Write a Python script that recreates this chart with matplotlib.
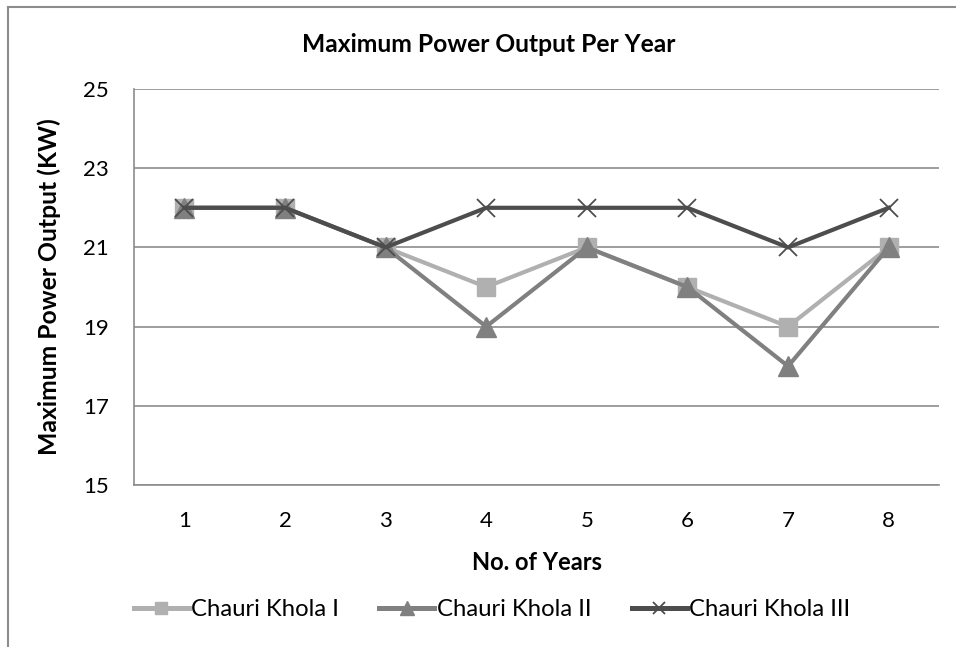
import matplotlib
matplotlib.use("Agg")
import matplotlib.pyplot as plt
from matplotlib.lines import Line2D

plt.rcParams['font.family'] = ['Lato', 'DejaVu Sans']

years = [1, 2, 3, 4, 5, 6, 7, 8]
khola1 = [22, 22, 21, 20, 21, 20, 19, 21]
khola2 = [22, 22, 21, 19, 21, 20, 18, 21]
khola3 = [22, 22, 21, 22, 22, 22, 21, 22]
yticks = [15, 17, 19, 21, 23, 25]

W, H = 956, 647
fig = plt.figure(figsize=(W / 100, H / 100), dpi=100)
ax = fig.add_axes([134 / W, 1 - 485 / H, 805 / W, 396 / H])

grid_c = '#8c8c8c'
ax.plot(years, khola1, color='#b0b0b0', lw=3.0, marker='s', ms=13,
        label='Chauri Khola I', zorder=3)
ax.plot(years, khola2, color='#808080', lw=3.0, marker='^', ms=14,
        label='Chauri Khola II', zorder=4)
ax.plot(years, khola3, color='#4d4d4d', lw=3.0, marker='x', ms=13,
        mew=1.3, label='Chauri Khola III', zorder=5)

ax.set_xlim(0.5, 8.5)
ax.set_ylim(15, 25)
ax.set_yticks(yticks)
ax.set_xticks(years)
ax.yaxis.grid(True, color=grid_c, lw=1.2)
ax.set_axisbelow(True)
for s in ['top', 'right']:
    ax.spines[s].set_visible(False)
for s in ['left', 'bottom']:
    ax.spines[s].set_color(grid_c)
    ax.spines[s].set_linewidth(1.2)
ax.tick_params(axis='both', length=0, labelsize=16, colors='black')
ax.tick_params(axis='y', pad=18)
ax.tick_params(axis='x', pad=19)

fig.text(537 / W, 1 - 562 / H, 'No. of Years', ha='center', va='center',
         fontsize=17, fontweight='bold')
fig.text(49 / W, 1 - 287 / H, 'Maximum Power Output (KW)', ha='center', va='center',
         rotation=90, fontsize=17.8, fontweight='bold')
fig.text(489 / W, 1 - 45 / H, 'Maximum Power Output Per Year', ha='center', va='center',
         fontsize=17.7, fontweight='bold')

leg = fig.legend(loc='center', bbox_to_anchor=(492 / W, 1 - 610 / H), ncol=3,
                 frameon=False, fontsize=17.2, handlelength=2.3, handletextpad=0.1,
                 columnspacing=1.7, markerscale=0.7)
for h in leg.legend_handles:
    h.set_linewidth(3.6)

fig.add_artist(Line2D([8 / W, 8 / W], [0, 1 - 7 / H], color='#8c8c8c', lw=1.5,
                      transform=fig.transFigure))
fig.add_artist(Line2D([8 / W, 1], [1 - 7 / H, 1 - 7 / H], color='#8c8c8c', lw=1.5,
                      transform=fig.transFigure))

fig.savefig('out.png', dpi=100)
